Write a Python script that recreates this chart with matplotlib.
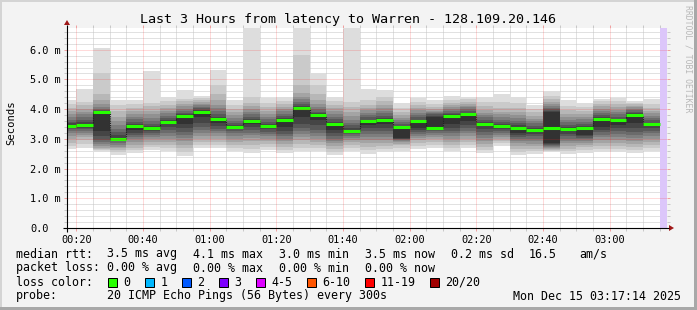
import matplotlib
matplotlib.use("Agg")
import matplotlib.pyplot as plt
from matplotlib.patches import Rectangle, Polygon
from matplotlib.ticker import FixedLocator

# ---------------- data ----------------
graph_start = "00:17:14"
graph_end = "03:17:14"
unknown_from = "03:15"
step_minutes = 5

bar_end_times = ["00:20", "00:25", "00:30", "00:35", "00:40", "00:45", "00:50", "00:55",
                 "01:00", "01:05", "01:10", "01:15", "01:20", "01:25", "01:30", "01:35",
                 "01:40", "01:45", "01:50", "01:55", "02:00", "02:05", "02:10", "02:15",
                 "02:20", "02:25", "02:30", "02:35", "02:40", "02:45", "02:50", "02:55",
                 "03:00", "03:05", "03:10", "03:15"]

# 20 sorted ping times (ms) per 5-minute step
rtt_pings = [
    [2.65, 2.75, 2.85, 2.98, 3.10, 3.20, 3.28, 3.33, 3.38, 3.42, 3.46, 3.52, 3.58, 3.65, 3.75, 3.85, 3.95, 4.05, 4.18, 4.31],
    [2.70, 2.82, 2.95, 3.05, 3.13, 3.20, 3.26, 3.32, 3.38, 3.44, 3.50, 3.56, 3.63, 3.72, 3.82, 3.92, 4.02, 4.15, 4.25, 4.68],
    [2.57, 2.61, 2.65, 2.70, 2.76, 2.82, 2.88, 2.95, 3.10, 3.28, 3.92, 3.95, 3.98, 4.02, 4.08, 4.18, 4.32, 4.50, 5.20, 6.06],
    [2.46, 2.55, 2.62, 2.68, 2.74, 2.80, 2.86, 2.92, 2.96, 2.99, 3.01, 3.12, 3.22, 3.32, 3.45, 3.60, 3.75, 3.95, 4.15, 4.31],
    [2.52, 2.62, 2.70, 2.80, 2.90, 2.98, 3.05, 3.12, 3.20, 3.30, 3.44, 3.50, 3.58, 3.66, 3.75, 3.85, 3.95, 4.05, 4.18, 4.31],
    [2.63, 2.72, 2.80, 2.90, 2.98, 3.05, 3.12, 3.20, 3.26, 3.31, 3.35, 3.42, 3.50, 3.60, 3.70, 3.82, 3.95, 4.10, 4.22, 5.28],
    [2.60, 2.70, 2.80, 2.90, 3.00, 3.10, 3.20, 3.30, 3.40, 3.50, 3.56, 3.62, 3.70, 3.78, 3.86, 3.95, 4.05, 4.15, 4.27, 4.40],
    [2.43, 2.55, 2.68, 2.80, 2.92, 3.02, 3.12, 3.22, 3.35, 3.50, 3.76, 3.82, 3.88, 3.95, 4.02, 4.10, 4.18, 4.27, 4.35, 4.63],
    [2.70, 2.80, 2.90, 3.00, 3.10, 3.20, 3.30, 3.40, 3.55, 3.75, 3.92, 3.98, 4.03, 4.08, 4.13, 4.18, 4.24, 4.30, 4.37, 4.44],
    [2.70, 2.80, 2.90, 3.00, 3.10, 3.18, 3.26, 3.34, 3.42, 3.55, 3.67, 3.75, 3.85, 3.95, 4.05, 4.15, 4.30, 4.50, 4.80, 5.33],
    [2.60, 2.70, 2.80, 2.90, 3.00, 3.10, 3.18, 3.26, 3.33, 3.38, 3.41, 3.46, 3.52, 3.60, 3.70, 3.80, 3.90, 4.00, 4.15, 4.31],
    [2.52, 2.65, 2.80, 2.92, 3.02, 3.12, 3.20, 3.30, 3.40, 3.50, 3.59, 3.66, 3.74, 3.82, 3.90, 4.00, 4.10, 4.22, 4.40, 6.76],
    [2.63, 2.72, 2.82, 2.92, 3.00, 3.08, 3.16, 3.24, 3.32, 3.39, 3.44, 3.50, 3.58, 3.66, 3.75, 3.85, 3.95, 4.07, 4.20, 4.37],
    [2.52, 2.62, 2.72, 2.82, 2.92, 3.00, 3.08, 3.16, 3.26, 3.40, 3.64, 3.70, 3.77, 3.85, 3.93, 4.00, 4.08, 4.17, 4.28, 4.40],
    [2.60, 2.70, 2.82, 2.95, 3.05, 3.15, 3.25, 3.35, 3.50, 3.75, 4.05, 4.10, 4.17, 4.25, 4.33, 4.42, 4.55, 4.80, 5.83, 6.76],
    [2.58, 2.68, 2.78, 2.88, 2.98, 3.08, 3.18, 3.30, 3.45, 3.65, 3.81, 3.86, 3.92, 4.00, 4.08, 4.18, 4.30, 4.50, 4.82, 5.20],
    [2.46, 2.56, 2.66, 2.76, 2.86, 2.94, 3.00, 3.08, 3.18, 3.30, 3.50, 3.58, 3.66, 3.75, 3.85, 3.95, 4.05, 4.15, 4.27, 4.40],
    [2.58, 2.68, 2.78, 2.88, 2.96, 3.04, 3.10, 3.16, 3.21, 3.25, 3.28, 3.35, 3.45, 3.55, 3.65, 3.78, 3.92, 4.08, 4.25, 6.76],
    [2.50, 2.62, 2.74, 2.86, 2.96, 3.06, 3.16, 3.26, 3.36, 3.48, 3.59, 3.65, 3.72, 3.80, 3.88, 3.96, 4.05, 4.15, 4.30, 4.68],
    [2.57, 2.67, 2.77, 2.87, 2.97, 3.07, 3.17, 3.27, 3.37, 3.50, 3.64, 3.70, 3.78, 3.86, 3.95, 4.05, 4.15, 4.27, 4.40, 4.63],
    [2.60, 2.70, 2.78, 2.84, 2.88, 2.92, 2.95, 2.98, 3.00, 3.02, 3.39, 3.44, 3.50, 3.56, 3.62, 3.70, 3.80, 3.92, 4.05, 4.20],
    [2.65, 2.75, 2.85, 2.95, 3.03, 3.10, 3.17, 3.24, 3.30, 3.38, 3.59, 3.65, 3.72, 3.80, 3.88, 3.96, 4.05, 4.14, 4.25, 4.37],
    [2.68, 2.78, 2.88, 2.98, 3.06, 3.14, 3.20, 3.26, 3.30, 3.33, 3.72, 3.78, 3.82, 3.86, 3.90, 3.95, 4.00, 4.08, 4.18, 4.31],
    [2.58, 2.68, 2.78, 2.88, 2.98, 3.08, 3.18, 3.28, 3.38, 3.50, 3.76, 3.82, 3.88, 3.94, 4.00, 4.07, 4.14, 4.22, 4.32, 4.44],
    [2.68, 2.78, 2.88, 2.98, 3.08, 3.18, 3.28, 3.38, 3.48, 3.60, 3.82, 3.88, 3.94, 4.00, 4.06, 4.12, 4.18, 4.25, 4.33, 4.42],
    [2.52, 2.62, 2.72, 2.82, 2.92, 3.02, 3.12, 3.22, 3.32, 3.42, 3.51, 3.58, 3.65, 3.72, 3.80, 3.88, 3.98, 4.10, 4.24, 4.40],
    [2.76, 2.85, 2.93, 3.00, 3.07, 3.14, 3.20, 3.26, 3.32, 3.38, 3.44, 3.50, 3.57, 3.65, 3.73, 3.82, 3.92, 4.05, 4.25, 4.51],
    [2.46, 2.56, 2.66, 2.76, 2.86, 2.94, 3.00, 3.06, 3.12, 3.18, 3.37, 3.45, 3.53, 3.61, 3.70, 3.80, 3.92, 4.05, 4.20, 4.40],
    [2.49, 2.58, 2.67, 2.76, 2.84, 2.92, 3.00, 3.08, 3.16, 3.23, 3.30, 3.37, 3.44, 3.52, 3.60, 3.68, 3.78, 3.90, 4.00, 4.15],
    [2.57, 2.60, 2.63, 2.66, 2.69, 2.72, 2.75, 2.78, 2.81, 2.85, 3.90, 3.95, 4.00, 4.05, 4.10, 4.16, 4.24, 4.33, 4.45, 4.60],
    [2.49, 2.58, 2.67, 2.76, 2.85, 2.93, 3.00, 3.08, 3.16, 3.25, 3.32, 3.40, 3.48, 3.56, 3.65, 3.74, 3.85, 3.97, 4.12, 4.31],
    [2.54, 2.63, 2.72, 2.80, 2.87, 2.93, 2.98, 3.03, 3.08, 3.14, 3.35, 3.42, 3.50, 3.58, 3.66, 3.75, 3.85, 3.95, 4.07, 4.20],
    [2.57, 2.66, 2.76, 2.86, 2.96, 3.05, 3.14, 3.22, 3.30, 3.40, 3.68, 3.73, 3.80, 3.87, 3.94, 4.02, 4.10, 4.18, 4.26, 4.35],
    [2.57, 2.66, 2.76, 2.86, 2.96, 3.06, 3.16, 3.26, 3.36, 3.48, 3.62, 3.68, 3.75, 3.82, 3.90, 3.98, 4.07, 4.17, 4.28, 4.39],
    [2.53, 2.62, 2.72, 2.82, 2.92, 3.02, 3.12, 3.22, 3.35, 3.55, 3.81, 3.86, 3.91, 3.96, 4.01, 4.06, 4.11, 4.16, 4.22, 4.28],
    [2.58, 2.68, 2.78, 2.88, 2.98, 3.08, 3.18, 3.28, 3.36, 3.43, 3.49, 3.55, 3.62, 3.70, 3.78, 3.86, 3.95, 4.05, 4.18, 4.34],
]

median_rtt = [3.44, 3.47, 3.92, 3.01, 3.44, 3.35, 3.56, 3.76, 3.92, 3.67, 3.41, 3.59,
              3.44, 3.64, 4.05, 3.81, 3.50, 3.28, 3.59, 3.64, 3.39, 3.59, 3.35, 3.76,
              3.82, 3.51, 3.44, 3.37, 3.30, 3.37, 3.32, 3.35, 3.68, 3.62, 3.81, 3.49]

x_tick_labels = ["00:20", "00:40", "01:00", "01:20", "01:40", "02:00", "02:20", "02:40", "03:00"]
y_tick_values = [0, 1, 2, 3, 4, 5, 6]
y_max = 6.73

title = "Last 3 Hours from latency to Warren - 128.109.20.146"
rtt_stats = ["3.5 ms avg", "4.1 ms max", "3.0 ms min", "3.5 ms now", "0.2 ms sd", "16.5", "am/s"]
loss_stats = ["0.00 % avg", "0.00 % max", "0.00 % min", "0.00 % now"]
loss_labels = ["0", "1", "2", "3", "4-5", "6-10", "11-19", "20/20"]
loss_colors = ["#26ff00", "#00b8ff", "#0059ff", "#7e00ff", "#dd00ff", "#ff5500", "#ff0000", "#a10000"]
probe_text = "20 ICMP Echo Pings (56 Bytes) every 300s"
date_text = "Mon Dec 15 03:17:14 2025"
watermark = "RRDTOOL / TOBI OETIKER"


def to_min(s):
    parts = [int(p) for p in s.split(":")]
    while len(parts) < 3:
        parts.append(0)
    return parts[0] * 60 + parts[1] + parts[2] / 60.0


# ---------------- figure ----------------
W, H = 697, 310
MONO = "DejaVu Sans Mono"
fig = plt.figure(figsize=(W / 100, H / 100), dpi=100)
fig.patch.set_facecolor("#f3f3f3")

L, R, T, B = 67, 667, 28, 228
ax = fig.add_axes([L / W, (H - B) / H, (R - L) / W, (B - T) / H])
ax.set_facecolor("white")
x0, x1 = to_min(graph_start), to_min(graph_end)
ax.set_xlim(x0, x1)
ax.set_ylim(0, y_max)
for s in ax.spines.values():
    s.set_visible(False)

ends = [to_min(t) for t in bar_end_times]
starts = [e - step_minutes for e in ends]

# grid lines under the data
minor_x = [to_min(t) for t in bar_end_times]
major_x = [to_min(t) for t in x_tick_labels]
minor_y = [k / 5 for k in range(1, 34) if k % 5 != 0]
for xv in minor_x:
    if xv not in major_x and x0 < xv < to_min(unknown_from):
        ax.axvline(xv, color="#c4c4c4", lw=0.72, ls=(0, (1, 1)), zorder=1)
for yv in minor_y:
    ax.axhline(yv, color="#c4c4c4", lw=0.72, ls=(0, (1, 1)), zorder=1)

# smoke bands (outer light -> inner dark)
n = 20
half = n // 2
for i in range(half):
    g = int(190 / half * (half - (i + 1))) + 50
    col = "#%02x%02x%02x" % (g, g, g)
    lows = [p[i] for p in rtt_pings]
    highs = [p[n - 1 - i] for p in rtt_pings]
    ax.bar(starts, [h - l for h, l in zip(highs, lows)], width=step_minutes,
           bottom=lows, align="edge", color=col, linewidth=0,
           antialiased=False, zorder=2)

# unknown area
ax.axvspan(to_min(unknown_from), x1, color="#dcc6fa", lw=0, zorder=2)

# median: dark connectors then coloured steps
ax.vlines(ends[:-1], [min(a, b) for a, b in zip(median_rtt[:-1], median_rtt[1:])],
          [max(a, b) for a, b in zip(median_rtt[:-1], median_rtt[1:])],
          colors="#202020", lw=0.8, linestyles=(0, (1, 1)), zorder=3)
ax.hlines(median_rtt, starts, ends, colors=loss_colors[0], lw=2.2, zorder=4,
          capstyle="butt")

# major grid on top
for xv in major_x:
    ax.axvline(xv, color="#ff2020", alpha=0.33, lw=0.72, ls=(0, (1, 1)), zorder=5)
for yv in y_tick_values[1:]:
    ax.axhline(yv, color="#ff2020", alpha=0.33, lw=0.72, ls=(0, (1, 1)), zorder=5)

# ticks
ax.xaxis.set_major_locator(FixedLocator(major_x))
ax.set_xticklabels(x_tick_labels, fontfamily=MONO, fontsize=7.4)
ax.xaxis.set_minor_locator(FixedLocator([v for v in minor_x if v not in major_x]))
ax.yaxis.set_major_locator(FixedLocator(y_tick_values))
ax.set_yticklabels(["0.0"] + ["%.1f m" % v for v in y_tick_values[1:]],
                   fontfamily=MONO, fontsize=7.4, ha="left")
ax.yaxis.set_minor_locator(FixedLocator(minor_y))
ax.tick_params(axis="x", which="major", direction="out", length=2.2, width=0.72,
               color="#f0a0a0", pad=2.5, top=True, bottom=True)
ax.tick_params(axis="x", which="minor", direction="out", length=2.2, width=0.72,
               color="#c8c8c8", top=True, bottom=True)
ax.tick_params(axis="y", which="major", direction="out", length=2.2, width=0.72,
               color="#f0a0a0", pad=(L - 30) * 0.72 - 2.2, left=True, right=True)
ax.tick_params(axis="y", which="minor", direction="out", length=2.2, width=0.72,
               color="#c8c8c8", left=True, right=True)
ax.set_ylabel("Seconds", fontfamily=MONO, fontsize=7.6, va="center")
ax.yaxis.set_label_coords((11 - L) / (R - L), (B - 123) / (B - T))

# ---------------- overlay in pixel coordinates ----------------
ov = fig.add_axes([0, 0, 1, 1])
ov.set_xlim(0, W)
ov.set_ylim(H, 0)
ov.axis("off")
ov.patch.set_alpha(0)

# axes lines & arrows
ov.plot([63, 669], [B, B], color="black", lw=0.8, solid_capstyle="butt")
ov.plot([L, L], [B + 4, T - 3], color="black", lw=0.8, solid_capstyle="butt")
arrow_col = "#a01818"
ov.add_patch(Polygon([[669, B - 3], [669, B + 3], [674, B]], closed=True,
                     color=arrow_col, lw=0))
ov.add_patch(Polygon([[L - 3, T - 3], [L + 3, T - 3], [L, T - 8]], closed=True,
                     color=arrow_col, lw=0))

# borders
ov.add_patch(Rectangle((0, 0), W, 2, color="#d4d4d4", lw=0))
ov.add_patch(Rectangle((0, 0), 2, H, color="#d4d4d4", lw=0))
ov.add_patch(Rectangle((W - 3, 0), 3, H, color="#a8a8a8", lw=0))
ov.add_patch(Rectangle((0, H - 3), W, 3, color="#a8a8a8", lw=0))

# title
ov.text(348, 19, title, ha="center", va="center", fontfamily=MONO, fontsize=9.6)

# watermark
ov.text(688, 59, watermark, ha="center", va="center", rotation=270,
        fontfamily=MONO, fontsize=5.9, color="#b8b8b8")

# legend
lfs = 8.4
ov.text(16, 254, "median rtt:", ha="left", va="center", fontfamily=MONO, fontsize=lfs)
for xp, s in zip([107, 193, 279, 365, 451, 529, 579], rtt_stats):
    ov.text(xp, 254, s, ha="left", va="center", fontfamily=MONO, fontsize=lfs)
ov.text(16, 268, "packet loss:", ha="left", va="center", fontfamily=MONO, fontsize=lfs)
for xp, s in zip([107, 193, 279, 365], loss_stats):
    ov.text(xp, 268, s, ha="left", va="center", fontfamily=MONO, fontsize=lfs)
ov.text(16, 282, "loss color:", ha="left", va="center", fontfamily=MONO, fontsize=lfs)
box_x = [108, 145, 182, 219, 256, 307, 365, 430]
for bx, lab, col in zip(box_x, loss_labels, loss_colors):
    ov.add_patch(Rectangle((bx, 278), 8.5, 8.5, facecolor=col, edgecolor="black", lw=0.72))
    ov.text(bx + 15.5, 282, lab, ha="left", va="center", fontfamily=MONO, fontsize=lfs)
ov.text(16, 296, "probe:", ha="left", va="center", fontfamily=MONO, fontsize=lfs)
ov.text(107, 296, probe_text, ha="left", va="center", fontfamily=MONO, fontsize=lfs)
ov.text(681, 296, date_text, ha="right", va="center", fontfamily=MONO, fontsize=lfs)

fig.savefig("out.png", dpi=100, facecolor=fig.get_facecolor())
